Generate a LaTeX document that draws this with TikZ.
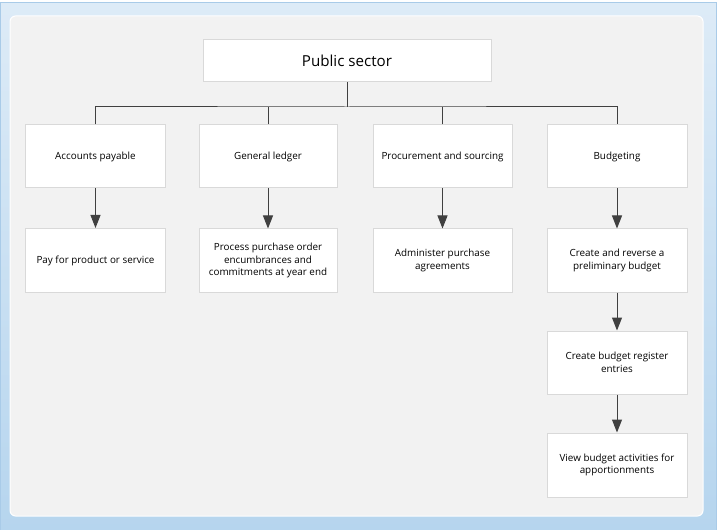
\documentclass[tikz,border=0pt]{standalone}
\usepackage{fontspec}
\setmainfont{Open Sans}
\usetikzlibrary{arrows.meta}
\definecolor{blueA}{HTML}{DDEBF7}
\definecolor{blueB}{HTML}{B6D5EE}
\definecolor{blueEdge}{HTML}{A9CBE8}
\definecolor{panel}{HTML}{F2F2F2}
\definecolor{boxedge}{HTML}{D9D9D9}
\definecolor{linec}{HTML}{404040}
\begin{document}
\begin{tikzpicture}[x=1bp,y=-1bp,
  box/.style={draw=boxedge, fill=white, line width=1bp, rectangle, inner sep=2bp, align=center,
    font=\fontsize{9.9}{12.7}\selectfont, text=black},
  link/.style={draw=linec, line width=1bp},
  arr/.style={link, -{Triangle[width=10bp,length=13bp]}}]
\useasboundingbox (0,0) rectangle (717,530);
\shade[top color=blueA, bottom color=blueB, draw=blueEdge] (0.5,2.5) rectangle (716.5,530);
\fill[white] (9.5,15.5) [rounded corners=6bp] rectangle (703.5,516.5);
\fill[panel] (10.5,16.5) [rounded corners=5bp] rectangle (702.5,515.5);

\node[box, minimum width=288bp, minimum height=42bp, font=\fontsize{15.2}{18}\selectfont] (ps) at (347,61) {Public sector};

\node[box, minimum width=139bp, minimum height=63bp] (ap) at (95.5,156.5) {Accounts payable};
\node[box, minimum width=138bp, minimum height=63bp] (gl) at (268,156.5) {General ledger};
\node[box, minimum width=139bp, minimum height=63bp] (pr) at (442.5,156.5) {Procurement and sourcing};
\node[box, minimum width=140bp, minimum height=63bp] (bu) at (617,156.5) {Budgeting};

\node[box, minimum width=139bp, minimum height=64bp] (ap1) at (95.5,260.5) {Pay for product or service};
\node[box, minimum width=138bp, minimum height=63bp] (gl1) at (268,260.5) {Process purchase order\\encumbrances and\\commitments at year end};
\node[box, minimum width=139bp, minimum height=63bp] (pr1) at (442.5,260.5) {Administer purchase\\agreements};
\node[box, minimum width=140bp, minimum height=63bp] (bu1) at (617,260.5) {Create and reverse a\\preliminary budget};
\node[box, minimum width=140bp, minimum height=63bp] (bu2) at (617,362.5) {Create budget register\\entries};
\node[box, minimum width=140bp, minimum height=64bp] (bu3) at (617,465) {View budget activities for\\apportionments};

\coordinate (bus) at (347,107);
\draw[link] (ps.south) -- (bus);
\draw[link] (ap.north) |- (bus) -| (bu.north);
\draw[link] (gl.north) -- (gl.north |- bus);
\draw[link] (pr.north) -- (pr.north |- bus);

\draw[arr] (ap.south) -- (ap1.north);
\draw[arr] (gl.south) -- (gl1.north);
\draw[arr] (pr.south) -- (pr1.north);
\draw[arr] (bu.south) -- (bu1.north);
\draw[arr] (bu1.south) -- (bu2.north);
\draw[arr] (bu2.south) -- (bu3.north);
\end{tikzpicture}
\end{document}
